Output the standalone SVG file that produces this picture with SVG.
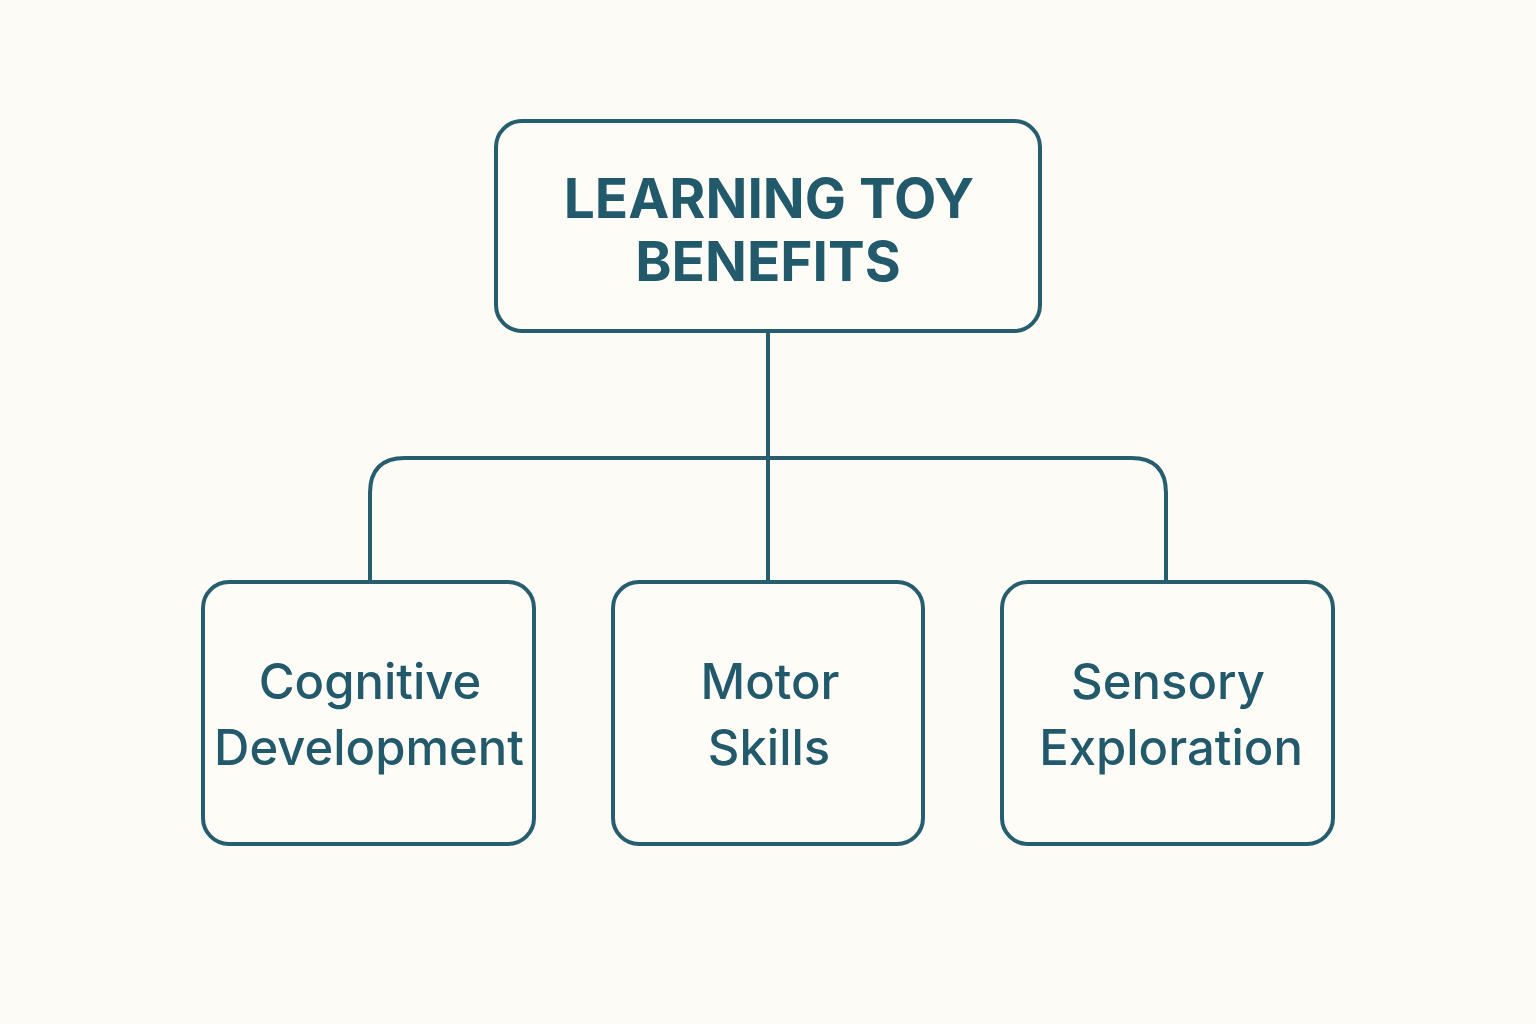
<svg xmlns="http://www.w3.org/2000/svg" width="1536" height="1024" viewBox="0 0 1536 1024">
<style>
.box{fill:#fefcf7;stroke:#275e6f;stroke-width:4}
.conn{fill:none;stroke:#275e6f;stroke-width:4}
.title{font-family:Inter,"Liberation Sans",sans-serif;font-weight:700;font-size:55px;fill:#235a6b;text-anchor:middle}
.label{font-family:Inter,"Liberation Sans",sans-serif;font-weight:500;font-size:49px;fill:#235a6b;text-anchor:middle}
</style>
<rect width="1536" height="1024" fill="#fdfbf6"/>
<g id="connectors">
<path class="conn" d="M768 331 V581"/>
<path class="conn" d="M370 581 V493 Q370 458 405 458 H1131 Q1166 458 1166 493 V581"/>
</g>
<g id="root">
<rect class="box" x="496" y="121" width="544" height="210" rx="26"/>
<text class="title" x="769" y="218">LEARNING TOY</text>
<text class="title" x="768" y="281">BENEFITS</text>
</g>
<g id="cognitive">
<rect class="box" x="203" y="582" width="331" height="262" rx="26"/>
<text class="label" x="370" y="699">Cognitive</text>
<text class="label" x="369" y="765">Development</text>
</g>
<g id="motor">
<rect class="box" x="613" y="582" width="310" height="262" rx="26"/>
<text class="label" x="770" y="699">Motor</text>
<text class="label" x="769" y="765">Skills</text>
</g>
<g id="sensory">
<rect class="box" x="1002" y="582" width="331" height="262" rx="26"/>
<text class="label" x="1168" y="699">Sensory</text>
<text class="label" x="1171" y="765">Exploration</text>
</g>
</svg>
